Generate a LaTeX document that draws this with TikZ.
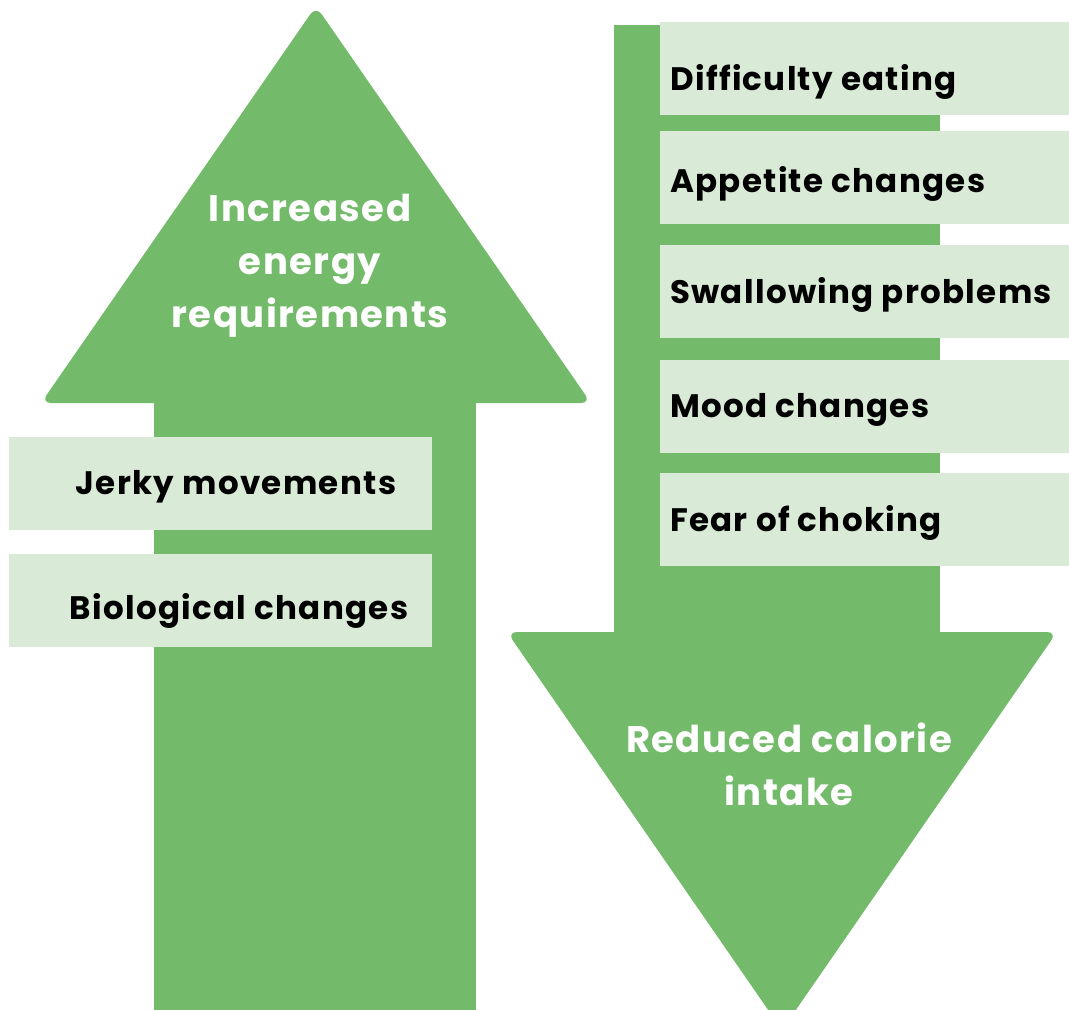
\documentclass[tikz,border=0pt]{standalone}
\usepackage{fontspec}
\setmainfont{Poppins}[LetterSpace=4]
\definecolor{arrowgreen}{HTML}{73BB6B}
\definecolor{boxgreen}{HTML}{D9EAD7}
\tikzset{
  boxlabel/.style={font=\fontsize{32.5}{38}\selectfont\bfseries, text=black, inner sep=0pt},
  arrowlabel/.style={font=\fontsize{37}{53}\selectfont\bfseries, text=white, align=center, inner sep=0pt},
  panel/.style={fill=boxgreen, draw=none},
}
\begin{document}
\begin{tikzpicture}[x=1pt,y=-1pt]
\useasboundingbox (0,0) rectangle (1069,1010);
\begin{scope}
\clip (0,0) rectangle (1069,1010);
% up arrow
\fill[arrowgreen] (154,395) rectangle (476,1010);
\fill[arrowgreen, rounded corners=10pt] (41,403) -- (316,6) -- (591,403) -- cycle;
% down arrow
\fill[arrowgreen] (614,25) rectangle (940,640);
\fill[arrowgreen, rounded corners=10pt] (507,632) -- (1057,632) -- (782,1030) -- cycle;
\end{scope}
% left panels
\fill[panel] (9,437) rectangle (432,530);
\fill[panel] (9,554) rectangle (432,647);
% right panels
\fill[panel] (660,22) rectangle (1069,115);
\fill[panel] (660,131) rectangle (1069,224);
\fill[panel] (660,245) rectangle (1069,338);
\fill[panel] (660,360) rectangle (1069,453);
\fill[panel] (660,473) rectangle (1069,566);
% labels
\node[boxlabel] (jerky) at (236,487) {Jerky movements};
\node[boxlabel] (bio) at (239,611) {Biological changes};
\node[boxlabel, anchor=west] (diff) at (670,82) {Difficulty eating};
\node[boxlabel, anchor=west] (app) at (670,184) {Appetite changes};
\node[boxlabel, anchor=west] (swal) at (670,295) {Swallowing problems};
\node[boxlabel, anchor=west] (mood) at (670,410) {Mood changes};
\node[boxlabel, anchor=west] (fear) at (670,523) {Fear of choking};
\node[arrowlabel] (inc) at (310,266) {Increased\\energy\\requirements};
\node[arrowlabel] (red) at (789,764) {Reduced calorie\\intake};
\end{tikzpicture}
\end{document}
